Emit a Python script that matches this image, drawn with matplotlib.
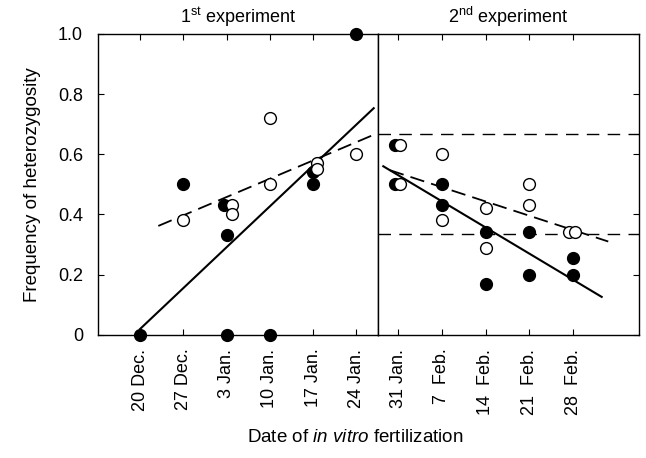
import matplotlib
matplotlib.use('Agg')
import matplotlib.pyplot as plt
import numpy as np

plt.rcParams['font.family'] = ['Liberation Sans', 'DejaVu Sans']
plt.rcParams['mathtext.fontset'] = 'custom'
plt.rcParams['mathtext.rm'] = 'Liberation Sans'
plt.rcParams['mathtext.it'] = 'Liberation Sans:italic'

# 1st experiment (weeks from 20 Dec.)
dates1 = ['20 Dec.', '27 Dec.', '3 Jan.', '10 Jan.', '17 Jan.', '24 Jan.']
filled1_week = [0, 1, 2, 2, 2, 3, 4, 4, 5]
filled1_freq = [0.0, 0.50, 0.43, 0.33, 0.0, 0.0, 0.54, 0.50, 1.0]
filled1_shift = [0, 0, -0.05, 0, 0, 0, 0, 0, 0]
open1_week = [1, 2, 2, 3, 3, 4, 4, 5]
open1_freq = [0.38, 0.43, 0.40, 0.72, 0.50, 0.57, 0.55, 0.60]
open1_shift = [0, 0.12, 0.12, 0, 0, 0.1, 0.1, 0]

# 2nd experiment (weeks from 31 Jan.)
dates2 = ['31 Jan.', '7  Feb.', '14  Feb.', '21  Feb.', '28  Feb.']
filled2_week = [0, 0, 1, 1, 2, 2, 3, 3, 4, 4]
filled2_freq = [0.63, 0.50, 0.50, 0.43, 0.34, 0.17, 0.34, 0.20, 0.255, 0.20]
filled2_shift = [-0.08, -0.08, 0, 0, 0, 0, 0, 0, 0, 0]
open2_week = [0, 0, 1, 1, 2, 2, 3, 3, 4, 4]
open2_freq = [0.63, 0.50, 0.60, 0.38, 0.42, 0.29, 0.50, 0.43, 0.34, 0.34]
open2_shift = [0.05, 0.05, 0, 0, 0, 0, 0, 0, -0.1, 0.04]

# expected frequencies shown as reference lines
ref_levels = [2 / 3, 1 / 3]

# extent of regression lines (weeks)
span1_filled = (0, 5.4)
span1_open = (0.42, 5.4)
span2_filled = (-0.34, 4.65)
span2_open = (-0.19, 4.8)

yticks = [0, 0.2, 0.4, 0.6, 0.8, 1.0]
ylabels = ['0', '0.2', '0.4', '0.6', '0.8', '1.0']

fig = plt.figure(figsize=(6.46, 4.58), dpi=100)
gs = fig.add_gridspec(1, 2, width_ratios=[280, 261], wspace=0,
                      left=0.152, right=0.989, top=0.926, bottom=0.269)
ax1 = fig.add_subplot(gs[0])
ax2 = fig.add_subplot(gs[1], sharey=ax1)


def fit_line(ax, weeks, freqs, span, style):
    k, b = np.polyfit(weeks, freqs, 1)
    xs = np.array(span)
    if style == 'solid':
        ax.plot(xs, k * xs + b, color='black', lw=1.5, zorder=2)
    else:
        ax.plot(xs, k * xs + b, color='black', lw=1.3, dashes=(8, 4), zorder=2)


def points(ax, weeks, shift, freqs, filled):
    x = np.array(weeks) + np.array(shift)
    ax.plot(x, freqs, 'o', ms=8.5, mec='black', mew=1.0,
            mfc='black' if filled else 'white', clip_on=False, zorder=3)


fit_line(ax1, filled1_week, filled1_freq, span1_filled, 'solid')
fit_line(ax1, open1_week, open1_freq, span1_open, 'dashed')
points(ax1, filled1_week, filled1_shift, filled1_freq, True)
points(ax1, open1_week, open1_shift, open1_freq, False)

for lvl in ref_levels:
    ax2.axhline(lvl, color='black', lw=1.0, dashes=(9, 6), zorder=1)
fit_line(ax2, filled2_week, filled2_freq, span2_filled, 'solid')
fit_line(ax2, open2_week, open2_freq, span2_open, 'dashed')
points(ax2, filled2_week, filled2_shift, filled2_freq, True)
points(ax2, open2_week, open2_shift, open2_freq, False)

ax1.set_xlim(-0.97, 5.5)
ax2.set_xlim(-0.46, 5.5)
ax1.set_ylim(0, 1.0)

ax1.set_xticks(range(len(dates1)))
ax1.set_xticklabels(dates1, rotation=90, fontsize=13)
ax2.set_xticks(range(len(dates2)))
ax2.set_xticklabels(dates2, rotation=90, fontsize=13)

ax1.set_yticks(yticks)
ax1.set_yticklabels(ylabels, fontsize=13)
ax1.tick_params(axis='y', direction='in', length=4, pad=11, left=True, right=False)
ax1.tick_params(axis='x', direction='in', length=4, pad=10, top=True, bottom=True)
ax2.tick_params(axis='y', direction='in', length=4, left=False, right=True,
                labelleft=False, labelright=False)
ax2.tick_params(axis='x', direction='in', length=4, pad=10, top=True, bottom=True)

for ax in (ax1, ax2):
    for s in ax.spines.values():
        s.set_linewidth(1.0)

ax1.set_title(r'1$^{\mathrm{st}}$ experiment', fontsize=13, pad=8)
ax2.set_title(r'2$^{\mathrm{nd}}$ experiment', fontsize=13, pad=8)
ax1.set_ylabel('Frequency of heterozygosity', fontsize=13.5, labelpad=12)
fig.text(0.55, 0.045, r'Date of $\mathit{in\ vitro}$ fertilization',
         ha='center', va='center', fontsize=13.5)

fig.savefig('out.png', dpi=100)
